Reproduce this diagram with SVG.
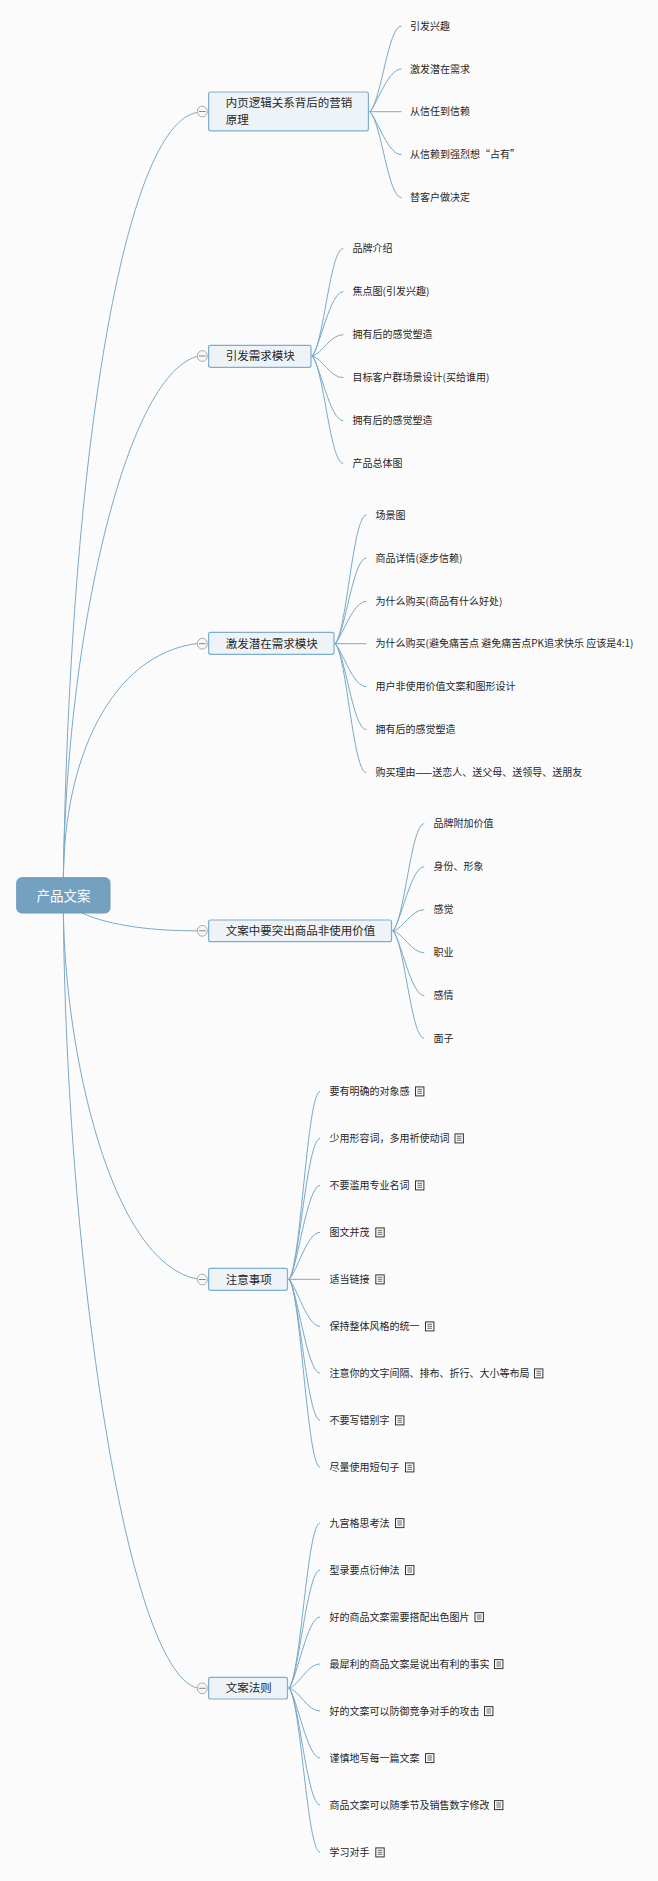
<svg xmlns="http://www.w3.org/2000/svg" width="658" height="1881" viewBox="0 0 658 1881">
<style>
text{font-family:"Noto Sans CJK SC","Liberation Sans",sans-serif;dominant-baseline:central;fill:#262626}
.leaf{font-size:10px}
.leaf text{transform:translateY(-1px)}
.topic{font-size:11.5px}
.root{font-size:13.5px;fill:#fff;text-anchor:middle}
.box{fill:#eef3f7;stroke:#7fadcd;stroke-width:1.2}
.conn path{fill:none;stroke:#7aa9c9;stroke-width:1}
.tog{fill:#f7f7f7;stroke:#a0a0a0;stroke-width:.9}
.tl{stroke:#888;stroke-width:1}
</style>
<defs>
<g id="note"><rect x="0.5" y="-4.4" width="8.4" height="9" fill="#fbfbfb" stroke="#333" stroke-width="1"/><path d="M2.4-2h4.6M2.4 0h4.6M2.4 2h4.6" stroke="#444" stroke-width=".8" fill="none"/></g>
</defs>
<rect width="658" height="1881" fill="#fbfbfb"/>
<g class="conn" id="connectors">
<path d="M63.4 877.7C70 450 125 125 197 112.5"/>
<path d="M63.4 877.7C66 640 125 376 197 356.5"/>
<path d="M63.4 877.7C64 760 110 655 197 643.5"/>
<path d="M82 913C110 926 155 931 197 930.8"/>
<path d="M63.4 913C65 1050 110 1262 197 1279"/>
<path d="M63.4 913C66 1250 125 1668 197 1688"/>
<path d="M368.5 111.7H370M370 111.7C382 98 388 26 401.6 26M370 111.7C378 102 388 69 401.6 69M370 111.7H401.6M370 111.7C378 121 388 154.7 401.6 154.7M370 111.7C382 125 388 197.7 401.6 197.7"/>
<path d="M311 356H312.2M312.2 356C324 343 330 248.7 343.3 248.7M312.2 356C320 347 330 291.7 343.3 291.7M312.2 356C322 354 330 334.7 343.3 334.7M312.2 356C322 358 330 377.7 343.3 377.7M312.2 356C320 365 330 420.7 343.3 420.7M312.2 356C324 369 330 463.3 343.3 463.3"/>
<path d="M334 643.7H335.2M335.2 643.7C347 630 353 515 366.4 515M335.2 643.7C345 634 353 558 366.4 558M335.2 643.7C343 635 353 601.3 366.4 601.3M335.2 643.7H366.4M335.2 643.7C343 652 353 686.7 366.4 686.7M335.2 643.7C345 653 353 729.7 366.4 729.7M335.2 643.7C347 657 353 772.7 366.4 772.7"/>
<path d="M391.5 930.8H393M393 930.8C405 918 411 823.7 424.3 823.7M393 930.8C401 922 411 866.7 424.3 866.7M393 930.8C403 929 411 909.7 424.3 909.7M393 930.8C403 933 411 952.7 424.3 952.7M393 930.8C401 940 411 995.7 424.3 995.7M393 930.8C405 944 411 1038.3 424.3 1038.3"/>
<path d="M287.5 1279.3H289M289 1279.3C301 1266 307 1091.3 320.2 1091.3M289 1279.3C299 1268 307 1138.3 320.2 1138.3M289 1279.3C297 1271 307 1185.3 320.2 1185.3M289 1279.3C297 1272 307 1232.3 320.2 1232.3M289 1279.3H320.2M289 1279.3C297 1287 307 1326.3 320.2 1326.3M289 1279.3C297 1288 307 1373.3 320.2 1373.3M289 1279.3C299 1290 307 1420.3 320.2 1420.3M289 1279.3C301 1292 307 1467.3 320.2 1467.3"/>
<path d="M287.5 1688H289M289 1688C301 1675 307 1523 320.2 1523M289 1688C299 1677 307 1570 320.2 1570M289 1688C297 1679 307 1617 320.2 1617M289 1688C299 1686 307 1664 320.2 1664M289 1688C299 1690 307 1711 320.2 1711M289 1688C297 1697 307 1758 320.2 1758M289 1688C299 1699 307 1805 320.2 1805M289 1688C301 1701 307 1852.3 320.2 1852.3"/>
</g>
<g id="root"><rect x="16.7" y="877.7" width="93.3" height="35.3" rx="5" fill="#73a1bf" stroke="#6e9cba"/><text class="root" x="63.4" y="894.5">产品文案</text></g>
<g id="topic1"><ellipse class="tog" cx="202.3" cy="111.5" rx="5" ry="5.4"/><path class="tl" d="M199 111.5h6.6"/><rect class="box" x="208.6" y="92" width="159.8" height="38.8" rx="2"/><text class="topic" x="225.8" y="101.7">内页逻辑关系背后的营销</text><text class="topic" x="225.8" y="119">原理</text></g>
<g id="topic2"><ellipse class="tog" cx="202.3" cy="356" rx="5" ry="5.4"/><path class="tl" d="M199 356h6.6"/><rect class="box" x="208.6" y="345.3" width="102.4" height="22" rx="2"/><text class="topic" x="225.8" y="355.3">引发需求模块</text></g>
<g id="topic3"><ellipse class="tog" cx="202.3" cy="643.7" rx="5" ry="5.4"/><path class="tl" d="M199 643.7h6.6"/><rect class="box" x="208.6" y="632.3" width="125.4" height="22" rx="2"/><text class="topic" x="225.8" y="642.5">激发潜在需求模块</text></g>
<g id="topic4"><ellipse class="tog" cx="202.3" cy="930.8" rx="5" ry="5.4"/><path class="tl" d="M199 930.8h6.6"/><rect class="box" x="208.6" y="920" width="182.9" height="21.7" rx="2"/><text class="topic" x="225.8" y="930">文案中要突出商品非使用价值</text></g>
<g id="topic5"><ellipse class="tog" cx="202.3" cy="1279.5" rx="5" ry="5.4"/><path class="tl" d="M199 1279.5h6.6"/><rect class="box" x="208.6" y="1268.3" width="78.9" height="22" rx="2"/><text class="topic" x="225.8" y="1278.5">注意事项</text></g>
<g id="topic6"><ellipse class="tog" cx="202.3" cy="1688.3" rx="5" ry="5.4"/><path class="tl" d="M199 1688.3h6.6"/><rect class="box" x="208.6" y="1677.3" width="78.9" height="21.7" rx="2"/><text class="topic" x="225.8" y="1687">文案法则</text></g>
<g id="leaves1" class="leaf">
<text x="410" y="26">引发兴趣</text><text x="410" y="69">激发潜在需求</text><text x="410" y="111.7">从信任到信赖</text><text x="410" y="154.7">从信赖到强烈想“占有”</text><text x="410" y="197.7">替客户做决定</text>
</g>
<g id="leaves2" class="leaf">
<text x="352.5" y="248.7">品牌介绍</text><text x="352.5" y="291.7">焦点图(引发兴趣)</text><text x="352.5" y="334.7">拥有后的感觉塑造</text><text x="352.5" y="377.7">目标客户群场景设计(买给谁用)</text><text x="352.5" y="420.7">拥有后的感觉塑造</text><text x="352.5" y="463.3">产品总体图</text>
</g>
<g id="leaves3" class="leaf">
<text x="375.6" y="515">场景图</text><text x="375.6" y="558">商品详情(逐步信赖)</text><text x="375.6" y="601.3">为什么购买(商品有什么好处)</text><text x="375.6" y="643.7">为什么购买(避免痛苦点 避免痛苦点PK追求快乐 应该是4:1)</text><text x="375.6" y="686.7">用户非使用价值文案和图形设计</text><text x="375.6" y="729.7">拥有后的感觉塑造</text><text x="375.6" y="772.7">购买理由——送恋人、送父母、送领导、送朋友</text>
</g>
<g id="leaves4" class="leaf">
<text x="433.5" y="823.7">品牌附加价值</text><text x="433.5" y="866.7">身份、形象</text><text x="433.5" y="909.7">感觉</text><text x="433.5" y="952.7">职业</text><text x="433.5" y="995.7">感情</text><text x="433.5" y="1038.3">面子</text>
</g>
<g id="leaves5" class="leaf">
<text x="329.4" y="1091.3">要有明确的对象感</text><use href="#note" x="415" y="1091.3"/>
<text x="329.4" y="1138.3">少用形容词，多用祈使动词</text><use href="#note" x="454.5" y="1138.3"/>
<text x="329.4" y="1185.3">不要滥用专业名词</text><use href="#note" x="415" y="1185.3"/>
<text x="329.4" y="1232.3">图文并茂</text><use href="#note" x="375.3" y="1232.3"/>
<text x="329.4" y="1279.3">适当链接</text><use href="#note" x="375.3" y="1279.3"/>
<text x="329.4" y="1326.3">保持整体风格的统一</text><use href="#note" x="425" y="1326.3"/>
<text x="329.4" y="1373.3">注意你的文字间隔、排布、折行、大小等布局</text><use href="#note" x="534" y="1373.3"/>
<text x="329.4" y="1420.3">不要写错别字</text><use href="#note" x="395" y="1420.3"/>
<text x="329.4" y="1467.3">尽量使用短句子</text><use href="#note" x="405" y="1467.3"/>
</g>
<g id="leaves6" class="leaf">
<text x="329.4" y="1523">九宫格思考法</text><use href="#note" x="395" y="1523"/>
<text x="329.4" y="1570">型录要点衍伸法</text><use href="#note" x="405" y="1570"/>
<text x="329.4" y="1617">好的商品文案需要搭配出色图片</text><use href="#note" x="474.5" y="1617"/>
<text x="329.4" y="1664">最犀利的商品文案是说出有利的事实</text><use href="#note" x="494" y="1664"/>
<text x="329.4" y="1711">好的文案可以防御竞争对手的攻击</text><use href="#note" x="484" y="1711"/>
<text x="329.4" y="1758">谨慎地写每一篇文案</text><use href="#note" x="425" y="1758"/>
<text x="329.4" y="1805">商品文案可以随季节及销售数字修改</text><use href="#note" x="494" y="1805"/>
<text x="329.4" y="1852.3">学习对手</text><use href="#note" x="375.3" y="1852.3"/>
</g>
</svg>
